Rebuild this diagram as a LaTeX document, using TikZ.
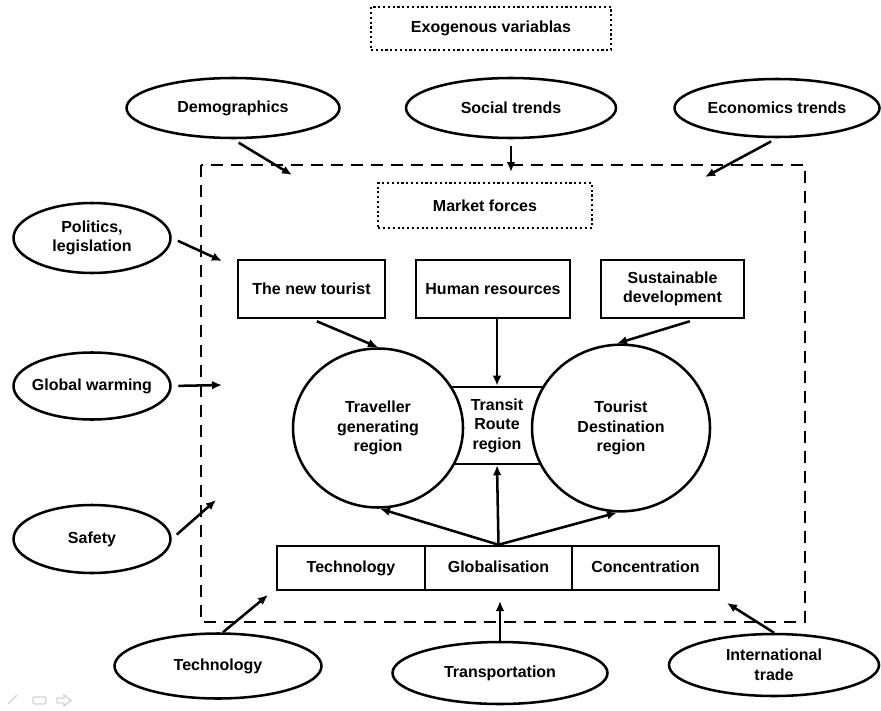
\documentclass[tikz,border=0pt]{standalone}
\usepackage{fontspec}
\setmainfont{Liberation Sans}
\usetikzlibrary{arrows.meta,shapes.geometric}
\begin{document}
\begin{tikzpicture}[x=0.75pt,y=-0.75pt,
  every node/.style={font=\fontsize{12}{14.6}\selectfont\bfseries, align=center, inner sep=0pt},
  oval/.style={ellipse, draw, line width=1.9pt, fill=white},
  factor/.style={rectangle, draw, line width=1.9pt, fill=white},
  force/.style={factor, text height=0.72em, text depth=0pt},
  region/.style={ellipse, draw, line width=1.9pt, fill=white},
  caption box/.style={rectangle, draw, line width=1.6pt, dotted},
  push/.style={line width=1.9pt, -{Latex[length=7.5pt,width=6.5pt]}}]
\useasboundingbox (0,0) rectangle (881,710);

% system boundary
\draw[line width=2.2pt, dash pattern=on 9pt off 6pt] (201,165) rectangle (805,622);

% headings
\node[caption box, minimum width=180pt, minimum height=32.25pt] (exo) at (491,28.5) {Exogenous variablas};
\node[caption box, minimum width=160pt, minimum height=33.75pt] (market) at (485,205.5) {Market forces};

% exogenous variables
\node[oval, minimum width=159.75pt, minimum height=45pt] (demo) at (233,108) {Demographics};
\node[oval, minimum width=157.5pt, minimum height=45pt] (social) at (511,108) {Social trends};
\node[oval, minimum width=153.75pt, minimum height=43.5pt] (econ) at (777,108) {Economics trends};
\node[oval, minimum width=117.75pt, minimum height=52.5pt] (politics) at (92,238) {Politics,\\legislation};
\node[oval, inner xsep=-12pt, minimum width=117.75pt, minimum height=50.25pt] (warming) at (92,386) {Global warming};
\node[oval, minimum width=117.75pt, minimum height=51pt] (safety) at (92,539) {Safety};
\node[oval, minimum width=155.25pt, minimum height=48.75pt] (techx) at (218,666) {Technology};
\node[oval, minimum width=161.25pt, minimum height=46.5pt] (transport) at (500,673) {Transportation};
\node[oval, minimum width=157.5pt, minimum height=46.5pt] (trade) at (774,665) {International\\trade};

% market forces
\node[factor, minimum width=110.25pt, minimum height=43.5pt] (tourist) at (311.5,289) {The new tourist};
\node[factor, minimum width=115.5pt, minimum height=43.5pt] (human) at (493,289) {Human resources};
\node[factor, minimum width=107.25pt, minimum height=43.5pt] (sustain) at (672.5,289) {Sustainable\\development};

% tourism system
\node[factor, minimum width=86.25pt, minimum height=57.75pt] (transit) at (497,425.5) {Transit\\Route\\region};
\node[region, minimum width=127.5pt, minimum height=119.25pt] (gen) at (378,428) {Traveller\\generating\\region};
\node[region, minimum width=133.5pt, minimum height=125pt] (dest) at (621,428) {Tourist\\Destination\\region};

% driving forces
\node[force, minimum width=111pt, minimum height=33pt] (techn) at (351,568) {Technology};
\node[force, minimum width=110.25pt, minimum height=33pt] (glob) at (498.5,568) {Globalisation};
\node[force, minimum width=110.25pt, minimum height=33pt] (conc) at (645.5,568) {Concentration};

% arrow tips on the boundary
\coordinate (demoT) at (292,175);
\coordinate (socialT) at (511,172);
\coordinate (econT) at (705,177);
\coordinate (politicsT) at (222,261);
\coordinate (warmingT) at (222,385);
\coordinate (safetyT) at (216,500);
\coordinate (techxT) at (268,595);
\coordinate (transportT) at (500,601);
\coordinate (tradeT) at (727,603);

\draw[push, shorten <=5pt] (demo.south) -- (demoT);
\draw[push, shorten <=5pt] (social.south) -- (socialT);
\draw[push, shorten <=5pt] (econ.south) -- (econT);
\draw[push, shorten <=5pt] (politics.east) -- (politicsT);
\draw[push, shorten <=5pt] (warming.east) -- (warmingT);
\draw[push, shorten <=5pt] (safety.east) -- (safetyT);
\draw[push] (techx.north) ++(5,0) -- (techxT);
\draw[push] (transport.north) -- (transportT);
\draw[push] (trade.north) -- (tradeT);

\draw[push] ([xshift=4pt,yshift=-1.5pt]tourist.south) -- (gen.north);
\draw[push] (transit.north |- human.south) -- (transit.north);
\draw[push] ([xshift=13pt,yshift=-1.5pt]sustain.south) -- ([xshift=-3pt]dest.north);

\draw[push] (glob.north) -- ([xshift=1.5pt]gen.south);
\draw[push] (glob.north) -- (transit.south);
\draw[push] (glob.north) -- ([xshift=-3pt]dest.south);

% slide controls
\draw[gray!35, line width=1pt] (8,704) -- (17,695);
\draw[gray!35, line width=1pt, rounded corners=1pt] (33,697) rectangle (46,704);
\draw[gray!35, line width=1pt] (57,698) -- (64,698) -- (64,695) -- (71,700.5) -- (64,706) -- (64,703) -- (57,703) -- cycle;
\end{tikzpicture}
\end{document}
